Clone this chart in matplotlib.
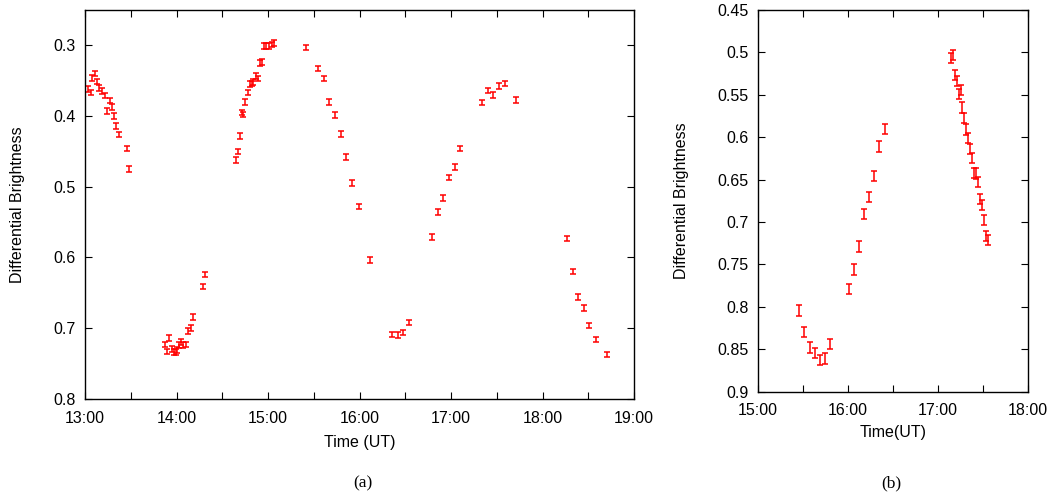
import matplotlib
matplotlib.use("Agg")
import matplotlib.pyplot as plt
from matplotlib.ticker import MultipleLocator, FuncFormatter

# panel (a): time in decimal hours UT, differential brightness
time_a = [13.036, 13.062, 13.080, 13.106, 13.128, 13.156, 13.180, 13.218, 13.243,
          13.273, 13.290, 13.317, 13.339, 13.375, 13.455, 13.480,
          13.873, 13.895, 13.920, 13.945, 13.970, 13.990, 14.005, 14.030, 14.050,
          14.070, 14.100, 14.127, 14.153, 14.175, 14.290, 14.315,
          14.645, 14.667, 14.690, 14.710, 14.730, 14.750, 14.775, 14.797, 14.823,
          14.840, 14.867, 14.889, 14.910, 14.930, 14.957, 14.980, 15.010, 15.040,
          15.067, 15.410, 15.550, 15.610, 15.670, 15.730, 15.795, 15.855, 15.917,
          15.988, 16.110, 16.355, 16.417, 16.475, 16.536,
          16.795, 16.857, 16.915, 16.977, 17.040, 17.100, 17.340, 17.405, 17.460,
          17.520, 17.585, 17.710, 18.270, 18.330, 18.390, 18.450, 18.510, 18.580,
          18.700]
bright_a = [0.362, 0.367, 0.346, 0.340, 0.351, 0.360, 0.365, 0.371, 0.393,
            0.378, 0.387, 0.400, 0.414, 0.426, 0.446, 0.475,
            0.723, 0.733, 0.714, 0.729, 0.734, 0.734, 0.731, 0.724, 0.719,
            0.724, 0.723, 0.704, 0.700, 0.684, 0.641, 0.624,
            0.462, 0.450, 0.428, 0.395, 0.398, 0.380, 0.367, 0.355, 0.354,
            0.352, 0.343, 0.347, 0.325, 0.324, 0.301, 0.301, 0.301, 0.299,
            0.297, 0.303, 0.333, 0.347, 0.380, 0.399, 0.425, 0.458, 0.495,
            0.528, 0.604, 0.709, 0.710, 0.706, 0.692,
            0.571, 0.536, 0.516, 0.487, 0.472, 0.446, 0.381, 0.364, 0.370,
            0.358, 0.354, 0.377, 0.573, 0.620, 0.656, 0.671, 0.696, 0.716,
            0.737]
err_a = [0.004] * len(time_a)

# panel (b)
time_b = [15.456, 15.511, 15.574, 15.630, 15.689, 15.748, 15.804,
          16.007, 16.067, 16.122, 16.178, 16.233, 16.293, 16.348, 16.407,
          17.148, 17.167, 17.193, 17.211, 17.230, 17.252, 17.270, 17.293,
          17.315, 17.333, 17.356, 17.378, 17.404, 17.422, 17.448, 17.467,
          17.489, 17.511, 17.537, 17.556]
bright_b = [0.8045, 0.830, 0.848, 0.855, 0.863, 0.861, 0.844,
            0.779, 0.756, 0.729, 0.691, 0.671, 0.646, 0.611, 0.590,
            0.507, 0.503, 0.527, 0.534, 0.549, 0.544, 0.565, 0.577,
            0.591, 0.601, 0.614, 0.625, 0.642, 0.643, 0.653, 0.673,
            0.680, 0.698, 0.717, 0.721]
err_b = [0.006] * len(time_b)

plt.rcParams["font.family"] = ["Liberation Sans", "DejaVu Sans"]


def hhmm(x, pos):
    h = int(round(x * 60)) // 60
    m = int(round(x * 60)) % 60
    return f"{h:d}:{m:02d}"


def style(ax, fs):
    ax.xaxis.set_major_locator(MultipleLocator(1))
    ax.xaxis.set_minor_locator(MultipleLocator(0.5))
    ax.xaxis.set_major_formatter(FuncFormatter(hhmm))
    ax.tick_params(which="both", direction="in", top=True, right=True,
                   length=5, width=0.8, labelsize=fs)
    ax.tick_params(axis="x", which="both", pad=8.5)
    ax.tick_params(axis="y", which="both", pad=7)
    for s in ax.spines.values():
        s.set_linewidth(1.0)


fig = plt.figure(figsize=(10.5, 4.95), dpi=100)

ax1 = fig.add_axes([0.081, 0.194, 0.523, 0.786])
ax1.errorbar(time_a, bright_a, yerr=err_a, fmt="none", ecolor="red",
             elinewidth=1.1, capsize=2.3, capthick=1.1)
ax1.set_xlim(13, 19)
ax1.set_ylim(0.8, 0.25)
ax1.set_yticks([0.3, 0.4, 0.5, 0.6, 0.7, 0.8])
ax1.set_yticklabels(["0.3", "0.4", "0.5", "0.6", "0.7", "0.8"])
style(ax1, 11.5)
ax1.set_xlabel("Time (UT)", fontsize=11.5, labelpad=7)
ax1.set_ylabel("Differential Brightness", fontsize=11.5, labelpad=20)

ax2 = fig.add_axes([0.722, 0.209, 0.257, 0.771])
ax2.errorbar(time_b, bright_b, yerr=err_b, fmt="none", ecolor="red",
             elinewidth=1.1, capsize=2.3, capthick=1.1)
ax2.set_xlim(15, 18)
ax2.set_ylim(0.9, 0.45)
yt = [0.45, 0.5, 0.55, 0.6, 0.65, 0.7, 0.75, 0.8, 0.85, 0.9]
ax2.set_yticks(yt)
ax2.set_yticklabels([f"{v:g}" for v in yt])
style(ax2, 11.5)
ax2.set_xlabel("Time(UT)", fontsize=11.5, labelpad=5)
ax2.set_ylabel("Differential Brightness", fontsize=11.5, labelpad=20)

fig.text(0.346, 0.024, "(a)", ha="center", va="center", fontsize=12.5,
         family="Liberation Serif")
fig.text(0.849, 0.024, "(b)", ha="center", va="center", fontsize=12.5,
         family="Liberation Serif")

fig.savefig("out.png", dpi=100)
